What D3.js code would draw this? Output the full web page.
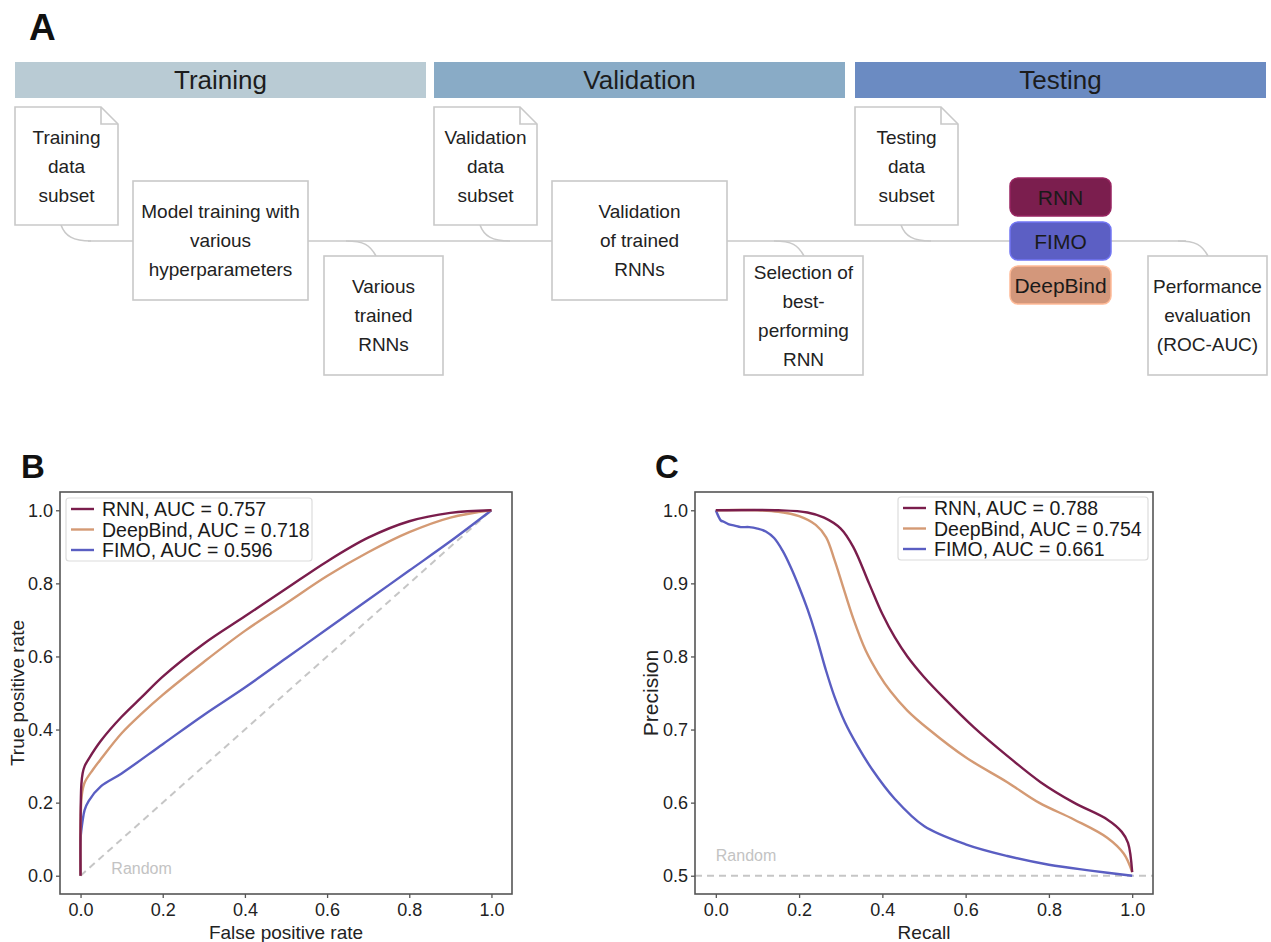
<!DOCTYPE html>
<html>
<head>
<meta charset="utf-8">
<script src="https://cdn.jsdelivr.net/npm/d3@7"></script>
<style>
	body { margin: 0; background: #fff; }
	svg { display: block; font-family: "Liberation Sans", Arial, sans-serif; }
</style>
</head>
<body>
<div id="root"></div>
<script>
// ---- panel A content
const stages = ["Training", "Validation", "Testing"];
const stageColors = ["#b9cbd4", "#89abc6", "#6b8bc2"];
const docTexts = [["Training", "data", "subset"], ["Validation", "data", "subset"], ["Testing", "data", "subset"]];
const stepTexts = [["Model training with", "various", "hyperparameters"], ["Validation", "of trained", "RNNs"]];
const outTexts = [["Various", "trained", "RNNs"], ["Selection of", "best-", "performing", "RNN"], ["Performance", "evaluation", "(ROC-AUC)"]];
const methods = ["RNN", "FIMO", "DeepBind"];
const methodColors = ["#7b1e4e", "#5c5fc4", "#d3977b"];

// ---- panel B / C data
const seriesNames = ["RNN", "DeepBind", "FIMO"];
const seriesColors = ["#7a1d4c", "#d49a74", "#5a5ec2"];
const rocAuc = [0.757, 0.718, 0.596];
const prAuc = [0.788, 0.754, 0.661];
const tickValuesRoc = [0, 0.2, 0.4, 0.6, 0.8, 1.0];
const tickValuesPrY = [0.5, 0.6, 0.7, 0.8, 0.9, 1.0];

const rocRNN = [[0, 0], [0, 0.15], [0.002, 0.25], [0.005, 0.28], [0.01, 0.30], [0.02, 0.32], [0.05, 0.37], [0.1, 0.435], [0.15, 0.49], [0.2, 0.545], [0.3, 0.635], [0.4, 0.71], [0.5, 0.785], [0.6, 0.86], [0.7, 0.925], [0.8, 0.97], [0.9, 0.993], [1, 1]];
const rocDeepBind = [[0, 0], [0, 0.12], [0.003, 0.22], [0.01, 0.255], [0.03, 0.29], [0.05, 0.32], [0.1, 0.39], [0.15, 0.445], [0.2, 0.495], [0.3, 0.585], [0.4, 0.67], [0.5, 0.745], [0.6, 0.82], [0.7, 0.885], [0.8, 0.94], [0.9, 0.98], [1, 1]];
const rocFIMO = [[0, 0], [0, 0.1], [0.005, 0.15], [0.01, 0.18], [0.02, 0.205], [0.05, 0.245], [0.1, 0.28], [0.2, 0.36], [0.3, 0.44], [0.4, 0.515], [0.5, 0.595], [0.6, 0.675], [0.7, 0.755], [0.8, 0.835], [0.9, 0.915], [1, 1]];

const prRNN = [[0, 1], [0.15, 1], [0.22, 0.997], [0.26, 0.99], [0.3, 0.975], [0.33, 0.95], [0.368, 0.9], [0.4, 0.858], [0.43, 0.826], [0.46, 0.8], [0.5, 0.772], [0.55, 0.742], [0.62, 0.703], [0.7, 0.664], [0.78, 0.628], [0.86, 0.60], [0.94, 0.577], [0.975, 0.56], [0.99, 0.545], [1, 0.505]];
const prDeepBind = [[0, 1], [0.1, 1], [0.15, 0.998], [0.2, 0.992], [0.24, 0.98], [0.265, 0.963], [0.285, 0.932], [0.303, 0.9], [0.33, 0.852], [0.36, 0.808], [0.39, 0.777], [0.42, 0.752], [0.46, 0.726], [0.512, 0.70], [0.6, 0.662], [0.7, 0.628], [0.776, 0.60], [0.86, 0.577], [0.94, 0.552], [0.98, 0.53], [1, 0.505]];
const prFIMO = [[0, 1], [0.006, 0.992], [0.012, 0.986], [0.02, 0.984], [0.03, 0.981], [0.045, 0.979], [0.06, 0.977], [0.08, 0.977], [0.1, 0.975], [0.12, 0.971], [0.14, 0.962], [0.16, 0.945], [0.18, 0.922], [0.2, 0.895], [0.22, 0.865], [0.24, 0.83], [0.264, 0.782], [0.285, 0.745], [0.31, 0.71], [0.34, 0.678], [0.376, 0.645], [0.43, 0.605], [0.5, 0.568], [0.6, 0.543], [0.7, 0.527], [0.8, 0.515], [0.9, 0.507], [1, 0.5]];

const rocSeries = [rocRNN, rocDeepBind, rocFIMO];
const prSeries = [prRNN, prDeepBind, prFIMO];

const W = 1271, H = 942;
const lineGrey = "#c9c9c9";

const svg = d3.select("#root")
	.append("svg")
		.attr("width", W)
		.attr("height", H);

const panelLetter = (x, y, txt, size) => {
	svg.append("text")
		.attr("x", x).attr("y", y)
		.attr("font-size", size)
		.attr("font-weight", "bold")
		.attr("fill", "#111")
		.text(txt);
};

const multiline = (g, cx, cy, lines, size, gap) => {
	const t = g.append("text")
		.attr("text-anchor", "middle")
		.attr("font-size", size)
		.attr("fill", "#222");
	const top = cy - (lines.length - 1) * gap / 2;
	lines.forEach((l, i) => {
		t.append("tspan")
			.attr("x", cx)
			.attr("y", top + i * gap)
			.attr("dy", "0.35em")
			.text(l);
	});
};

// ================= panel A =================
const drawWorkflow = () => {
	panelLetter(29, 40, "A", 37);

	const g = svg.append("g");
	const stageX = [15, 434, 855];
	const stageW = 411;
	const lineY = 241;

	// banners
	stages.forEach((s, i) => {
		g.append("rect")
			.attr("x", stageX[i]).attr("y", 62)
			.attr("width", stageW).attr("height", 36)
			.attr("fill", stageColors[i]);
		g.append("text")
			.attr("x", stageX[i] + stageW / 2).attr("y", 80)
			.attr("dy", "0.35em")
			.attr("text-anchor", "middle")
			.attr("font-size", 26)
			.attr("fill", "#1c1c1c")
			.text(s);
	});

	const conn = g.append("g")
		.attr("fill", "none")
		.attr("stroke", lineGrey)
		.attr("stroke-width", 1.6);

	// main horizontal connector
	conn.append("path").attr("d", `M88,${lineY} L1186,${lineY}`);

	// branches from docs and down to output boxes
	stageX.forEach(x => {
		const dx = x + 46;
		conn.append("path").attr("d", `M${dx},225 C${dx + 4},236 ${dx + 12},${lineY} ${dx + 30},${lineY}`);
	});
	const outX = [324, 744, 1148];
	outX.forEach((x, i) => {
		const ex = x + (i === 0 ? 52 : 60);
		conn.append("path").attr("d", `M${ex - 30},${lineY} C${ex - 12},${lineY} ${ex - 6},${lineY + 4} ${ex},256`);
	});

	const box = { stroke: lineGrey, sw: 1.6 };

	// document shapes
	stageX.forEach((x, i) => {
		const w = 103, h = 118, y = 107, f = 17;
		g.append("path")
			.attr("d", `M${x},${y} L${x + w - f},${y} L${x + w},${y + f} L${x + w},${y + h} L${x},${y + h} Z`)
			.attr("fill", "#fff").attr("stroke", box.stroke).attr("stroke-width", box.sw);
		g.append("path")
			.attr("d", `M${x + w - f},${y} L${x + w - f},${y + f} L${x + w},${y + f}`)
			.attr("fill", "none").attr("stroke", box.stroke).attr("stroke-width", box.sw);
		multiline(g, x + w / 2, y + 59, docTexts[i], 19, 29);
	});

	// process boxes
	stepTexts.forEach((lines, i) => {
		const x = stageX[i] + 118, y = 181, w = 175, h = 119;
		g.append("rect")
			.attr("x", x).attr("y", y).attr("width", w).attr("height", h)
			.attr("fill", "#fff").attr("stroke", box.stroke).attr("stroke-width", box.sw);
		multiline(g, x + w / 2, y + h / 2, lines, 19, 29);
	});

	// output boxes
	outTexts.forEach((lines, i) => {
		const x = outX[i], y = 256, w = 119, h = 119;
		g.append("rect")
			.attr("x", x).attr("y", y).attr("width", w).attr("height", h)
			.attr("fill", "#fff").attr("stroke", box.stroke).attr("stroke-width", box.sw);
		multiline(g, x + w / 2, y + h / 2, lines, 19, 29);
	});

	// method pills
	methods.forEach((m, i) => {
		const x = 1010, y = 178 + i * 44, w = 101, h = 38;
		g.append("rect")
			.attr("x", x).attr("y", y).attr("width", w).attr("height", h)
			.attr("rx", 8)
			.attr("fill", methodColors[i])
			.attr("stroke", d3.color(methodColors[i]).brighter(0.6))
			.attr("stroke-width", 1.5);
		g.append("text")
			.attr("x", x + w / 2).attr("y", y + h / 2)
			.attr("dy", "0.36em")
			.attr("text-anchor", "middle")
			.attr("font-size", 21)
			.attr("fill", "#1a1a1a")
			.text(m);
	});
};

// ================= panels B / C =================
const drawCurvePanel = (cfg) => {
	const { frame } = cfg;
	const x = d3.scaleLinear().domain(cfg.xDomain).range([frame.x0, frame.x1]);
	const y = d3.scaleLinear().domain(cfg.yDomain).range([frame.y1, frame.y0]);
	const g = svg.append("g");

	// reference (random) line
	g.append("path")
		.attr("d", d3.line().x(d => x(d[0])).y(d => y(d[1]))(cfg.randomLine))
		.attr("fill", "none")
		.attr("stroke", "#c6c6c6")
		.attr("stroke-width", 2)
		.attr("stroke-dasharray", "7,5");

	g.append("text")
		.attr("x", x(cfg.randomLabel[0])).attr("y", y(cfg.randomLabel[1]))
		.attr("font-size", 16)
		.attr("fill", "#c3c3c3")
		.text("Random");

	// curves
	const line = d3.line()
		.x(d => x(d[0]))
		.y(d => y(d[1]))
		.curve(d3.curveCatmullRom.alpha(0.5));

	g.selectAll(".curve")
		.data(cfg.series.slice().reverse())
		.enter()
		.append("path")
			.attr("class", "curve")
			.attr("d", d => line(d.values))
			.attr("fill", "none")
			.attr("stroke", d => d.color)
			.attr("stroke-width", 2.4)
			.attr("stroke-linejoin", "round");

	// frame
	g.append("rect")
		.attr("x", frame.x0).attr("y", frame.y0)
		.attr("width", frame.x1 - frame.x0).attr("height", frame.y1 - frame.y0)
		.attr("fill", "none")
		.attr("stroke", "#555")
		.attr("stroke-width", 1.6);

	// axes
	const fmt = d3.format(".1f");
	const xAxis = g.append("g")
		.attr("transform", `translate(0, ${frame.y1})`)
		.call(d3.axisBottom(x).tickValues(cfg.xTicks).tickFormat(fmt).tickSize(4).tickPadding(5));
	const yAxis = g.append("g")
		.attr("transform", `translate(${frame.x0}, 0)`)
		.call(d3.axisLeft(y).tickValues(cfg.yTicks).tickFormat(fmt).tickSize(4).tickPadding(3));

	[xAxis, yAxis].forEach(a => {
		a.select(".domain").remove();
		a.selectAll("line").attr("stroke", "#555").attr("stroke-width", 1.3);
		a.selectAll("text")
			.attr("font-size", 18)
			.attr("font-family", "'Liberation Sans', Arial, sans-serif")
			.attr("fill", "#222");
	});

	g.append("text")
		.attr("x", (frame.x0 + frame.x1) / 2).attr("y", frame.y1 + 45)
		.attr("text-anchor", "middle")
		.attr("font-size", 19)
		.attr("fill", "#222")
		.text(cfg.xLabel);

	g.append("text")
		.attr("transform", `translate(${cfg.yLabelX}, ${(frame.y0 + frame.y1) / 2}) rotate(-90)`)
		.attr("text-anchor", "middle")
		.attr("font-size", cfg.yLabelSize)
		.attr("fill", "#222")
		.text(cfg.yLabel);

	// legend
	const lg = cfg.legend;
	g.append("rect")
		.attr("x", lg.x).attr("y", lg.y)
		.attr("width", lg.w).attr("height", 63)
		.attr("rx", 3)
		.attr("fill", "#fff")
		.attr("fill-opacity", 0.85)
		.attr("stroke", "#dcdcdc")
		.attr("stroke-width", 1.2);

	cfg.series.forEach((s, i) => {
		const cy = lg.y + 11 + i * 20.5;
		g.append("line")
			.attr("x1", lg.x + 5).attr("x2", lg.x + 28)
			.attr("y1", cy).attr("y2", cy)
			.attr("stroke", s.color)
			.attr("stroke-width", 2.4);
		g.append("text")
			.attr("x", lg.x + 36).attr("y", cy)
			.attr("dy", "0.36em")
			.attr("font-size", 19.5)
			.attr("fill", "#1a1a1a")
			.text(`${s.name}, AUC = ${s.auc.toFixed(3)}`);
	});
};

drawWorkflow();

panelLetter(21, 478, "B", 33);
panelLetter(655, 478, "C", 33);

drawCurvePanel({
	frame: { x0: 60, x1: 512, y0: 492, y1: 894 },
	xDomain: [-0.05, 1.05],
	yDomain: [-0.05, 1.05],
	xTicks: tickValuesRoc,
	yTicks: tickValuesRoc,
	xLabel: "False positive rate",
	yLabel: "True positive rate",
	yLabelX: 24,
	yLabelSize: 19,
	randomLine: [[0, 0], [1, 1]],
	randomLabel: [0.075, 0.005],
	legend: { x: 66, y: 498, w: 246 },
	series: seriesNames.map((n, i) => ({ name: n, color: seriesColors[i], auc: rocAuc[i], values: rocSeries[i] }))
});

drawCurvePanel({
	frame: { x0: 695, x1: 1153, y0: 492, y1: 894 },
	xDomain: [-0.05, 1.05],
	yDomain: [0.475, 1.025],
	xTicks: tickValuesRoc,
	yTicks: tickValuesPrY,
	xLabel: "Recall",
	yLabel: "Precision",
	yLabelX: 658,
	yLabelSize: 21,
	randomLine: [[-0.05, 0.5], [1.05, 0.5]],
	randomLabel: [0.0, 0.52],
	legend: { x: 898, y: 497, w: 250 },
	series: seriesNames.map((n, i) => ({ name: n, color: seriesColors[i], auc: prAuc[i], values: prSeries[i] }))
});
</script>
</body>
</html>
